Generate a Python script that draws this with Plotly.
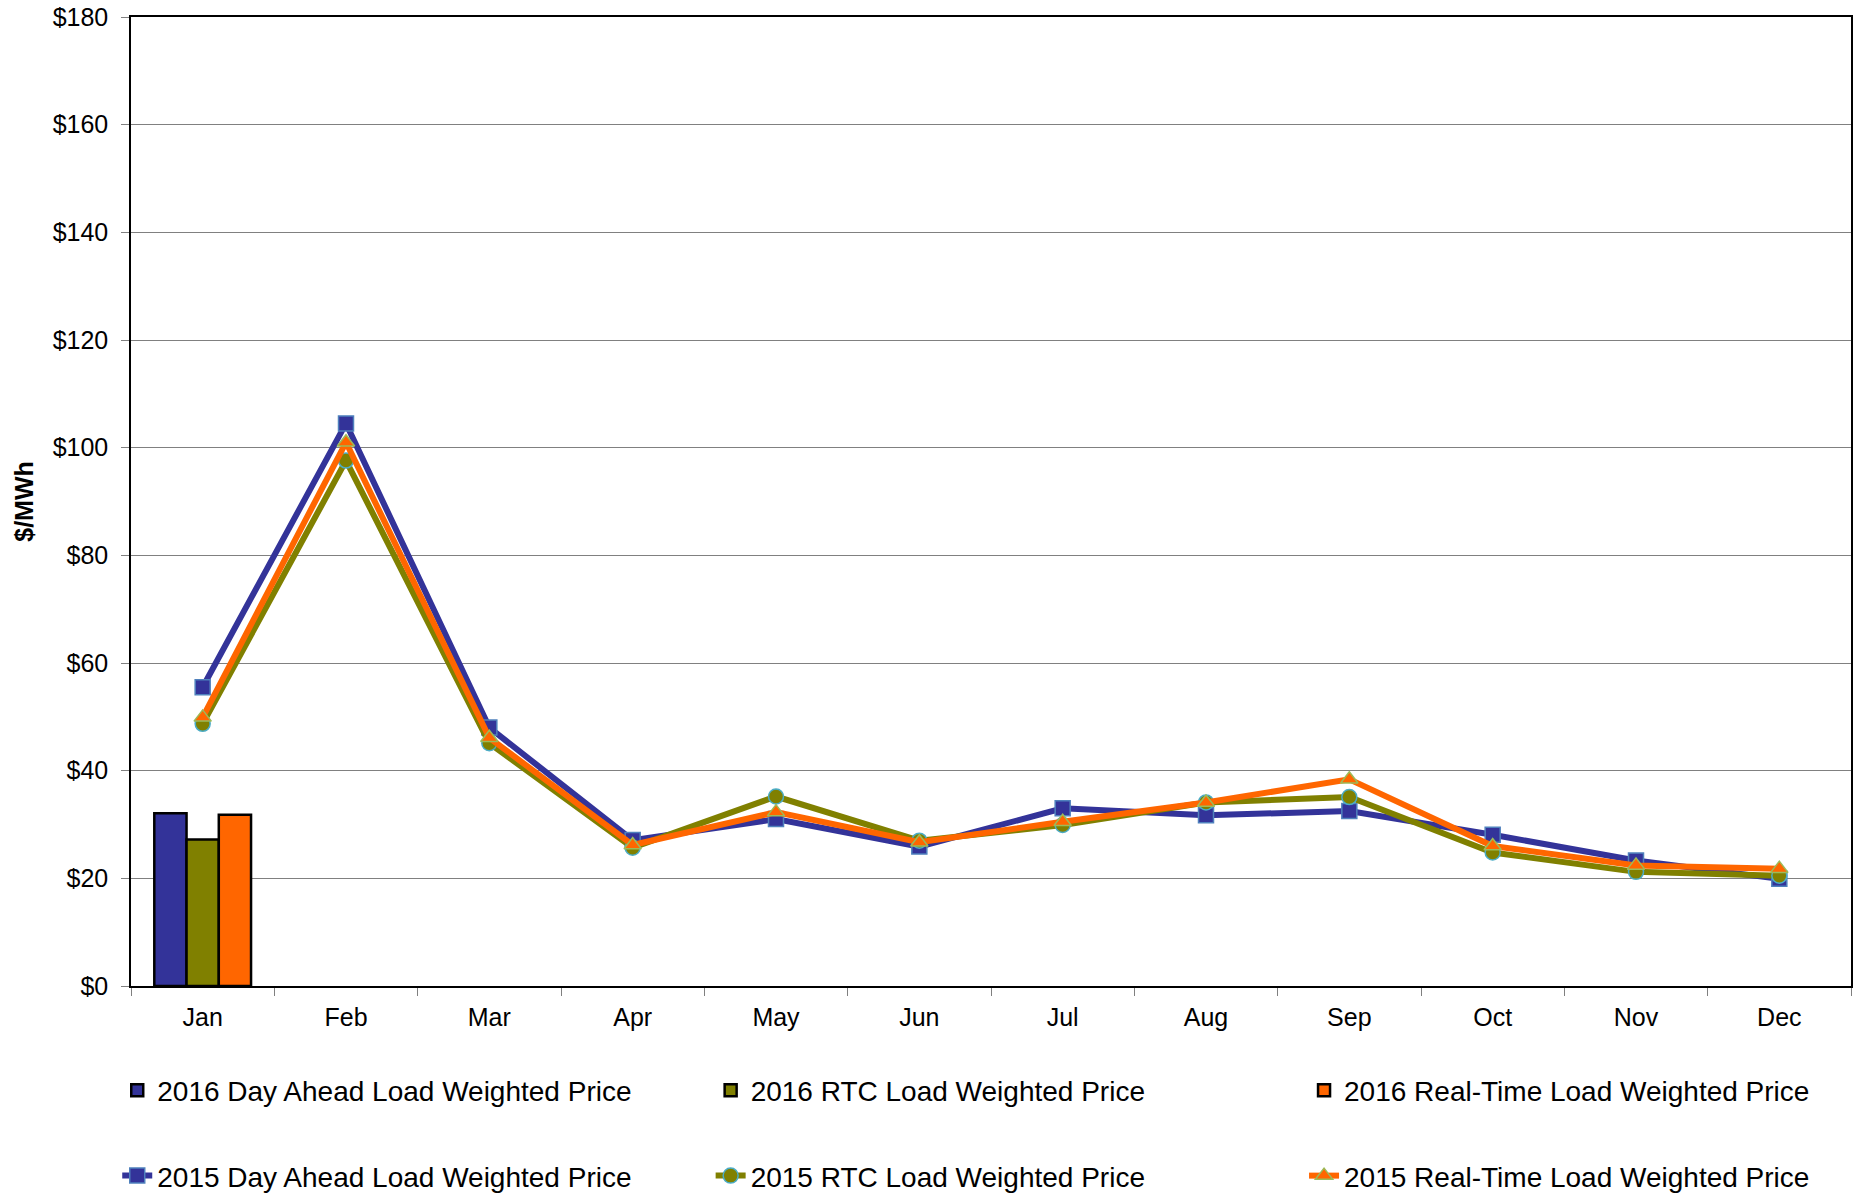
import plotly.graph_objects as go

# dados
months = ["Jan", "Feb", "Mar", "Apr", "May", "Jun", "Jul", "Aug", "Sep", "Oct", "Nov", "Dec"]

da_2016 = [32.1]
rtc_2016 = [27.2]
rt_2016 = [31.8]

da_2015 = [55.5, 104.5, 48.0, 27.1, 31.0, 25.9, 33.0, 31.7, 32.5, 28.1, 23.3, 19.9]
rtc_2015 = [48.7, 97.6, 45.1, 25.7, 35.2, 27.0, 29.9, 34.1, 35.1, 24.8, 21.2, 20.5]
rt_2015 = [49.9, 101.0, 46.1, 26.2, 32.3, 26.7, 30.5, 34.1, 38.4, 26.0, 22.4, 21.8]

y_ticks = list(range(0, 181, 20))
y_labels = [f"${v}" for v in y_ticks]

FONT = "Arial, Liberation Sans, sans-serif"
BLUE = "#333399"
OLIVE = "#808000"
ORANGE = "#FF6600"

fig = go.Figure()

# 1. Barras 2016 (uma legenda por coluna, linha de cima)
for i, (name, vals, cor) in enumerate([
    ("2016 Day Ahead Load Weighted Price", da_2016, BLUE),
    ("2016 RTC Load Weighted Price", rtc_2016, OLIVE),
    ("2016 Real-Time Load Weighted Price", rt_2016, ORANGE),
]):
    fig.add_trace(go.Bar(
        x=months[:len(vals)], y=vals, name=name,
        marker=dict(color=cor, line=dict(color="black", width=2.5)),
        legend="legend" if i == 0 else f"legend{i + 1}",
    ))

# 2. Linhas 2015 (linha de baixo)
for i, (name, vals, cor, simb, borda) in enumerate([
    ("2015 Day Ahead Load Weighted Price", da_2015, BLUE, "square", "#4F81BD"),
    ("2015 RTC Load Weighted Price", rtc_2015, OLIVE, "circle", "#4BACC6"),
    ("2015 Real-Time Load Weighted Price", rt_2015, ORANGE, "triangle-up", "#9BBB59"),
]):
    fig.add_trace(go.Scatter(
        x=months, y=vals, name=name, mode="lines+markers",
        line=dict(color=cor, width=6),
        marker=dict(symbol=simb, size=15, color=cor, line=dict(color=borda, width=1.5)),
        legend=f"legend{i + 4}",
    ))

# posições das legendas (papel): 3 colunas x 2 linhas
col_x = [-0.008, 0.337, 0.682]
row_y = [-0.108, -0.196]
legendas = {}
for r, yy in enumerate(row_y):
    for c, xx in enumerate(col_x):
        k = r * 3 + c
        chave = "legend" if k == 0 else f"legend{k + 1}"
        legendas[chave] = dict(
            x=xx, y=yy, xanchor="left", yanchor="middle",
            font=dict(size=28), bgcolor="rgba(0,0,0,0)", borderwidth=0,
        )

fig.update_layout(
    width=1863, height=1195,
    margin=dict(l=131, r=12, t=17, b=209, autoexpand=False),
    paper_bgcolor="white", plot_bgcolor="white",
    font=dict(family=FONT, size=25, color="black"),
    barmode="group", bargap=0.325, bargroupgap=0,
    showlegend=True,
    **legendas,
)

fig.update_xaxes(
    type="category", categoryorder="array", categoryarray=months,
    range=[-0.5, len(months) - 0.5],
    showline=True, linecolor="black", linewidth=1.5, mirror=True,
    ticks="outside", tickson="boundaries", ticklen=8, tickcolor="#808080",
    ticklabelstandoff=8, showgrid=False, automargin=False,
)
fig.update_yaxes(
    range=[0, 180], tickmode="array", tickvals=y_ticks, ticktext=y_labels,
    showline=True, linecolor="black", linewidth=1.5, mirror=True,
    ticks="outside", ticklen=8, tickcolor="#808080", ticklabelstandoff=8,
    showgrid=True, gridcolor="#808080", gridwidth=1, zeroline=False,
    title=dict(text="<b>$/MWh</b>", font=dict(size=25), standoff=12),
    automargin=False,
)

# tira a margem padrão do body para o gráfico ocupar a janela inteira
fig.write_html(
    "out.html",
    config={"displayModeBar": False},
    post_script="document.body.style.margin='0px';",
)
print("gráfico salvo: out.html")
